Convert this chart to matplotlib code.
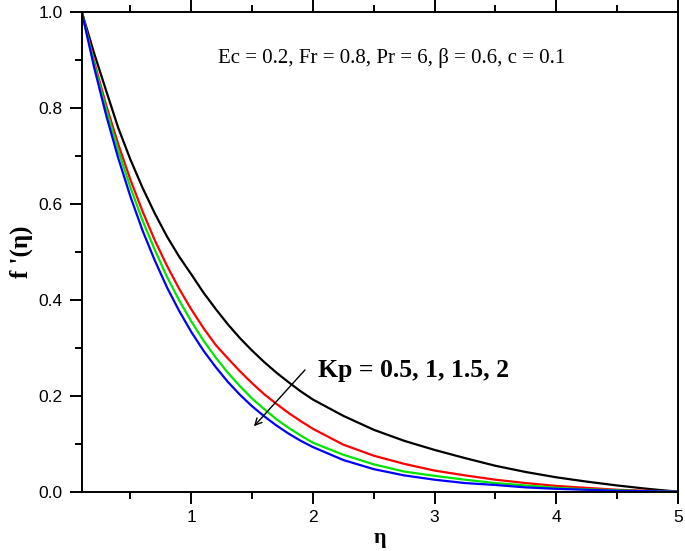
import numpy as np
import matplotlib.pyplot as plt
from matplotlib.ticker import MultipleLocator

# eta grid and f'(eta) for Kp = 0.5, 1, 1.5, 2
eta = [0.1, 0.2, 0.3, 0.4, 0.5, 0.6, 0.7, 0.8, 0.9, 1.0,
       1.1, 1.2, 1.3, 1.4, 1.5, 1.6, 1.7, 1.8, 1.9, 2.0,
       2.25, 2.5, 2.75, 3.0, 3.25, 3.5, 3.75, 4.0, 4.25, 4.5, 4.75, 5.0]
kp_05 = [1.0, 0.915, 0.836, 0.758, 0.692, 0.633, 0.580, 0.532, 0.490, 0.453,
         0.415, 0.381, 0.349, 0.320, 0.294, 0.270, 0.248, 0.228, 0.209, 0.192,
         0.158, 0.129, 0.106, 0.087, 0.070, 0.054, 0.041, 0.030, 0.021, 0.013, 0.006, 0.0]
kp_1 = [1.0, 0.898, 0.806, 0.724, 0.650, 0.584, 0.524, 0.471, 0.423, 0.380,
        0.341, 0.306, 0.278, 0.251, 0.226, 0.203, 0.183, 0.164, 0.147, 0.131,
        0.098, 0.075, 0.058, 0.044, 0.034, 0.025, 0.018, 0.012, 0.008, 0.004, 0.002, 0.0]
kp_15 = [1.0, 0.893, 0.797, 0.711, 0.634, 0.565, 0.504, 0.448, 0.399, 0.355,
         0.315, 0.280, 0.248, 0.220, 0.194, 0.172, 0.151, 0.133, 0.117, 0.102,
         0.077, 0.057, 0.042, 0.033, 0.025, 0.018, 0.013, 0.008, 0.005, 0.003, 0.001, 0.0]
kp_2 = [1.0, 0.886, 0.785, 0.695, 0.615, 0.544, 0.482, 0.426, 0.377, 0.333,
        0.294, 0.260, 0.229, 0.202, 0.178, 0.157, 0.138, 0.121, 0.106, 0.093,
        0.066, 0.047, 0.034, 0.025, 0.018, 0.014, 0.009, 0.006, 0.004, 0.002, 0.001, 0.0]

series = [(kp_05, 'black'), (kp_1, '#ff0000'), (kp_15, '#00e600'), (kp_2, '#0000ff')]

fig = plt.figure(figsize=(6.85, 5.51), dpi=100)
ax = fig.add_axes([0.1193, 0.1076, 0.8705, 0.8712])

for vals, col in series:
    ax.plot(eta, vals, color=col, lw=1.6)

ax.set_xlim(0.1, 5)
ax.set_ylim(0, 1.0)
ax.xaxis.set_major_locator(MultipleLocator(1))
ax.xaxis.set_minor_locator(MultipleLocator(0.5))
ax.yaxis.set_major_locator(MultipleLocator(0.2))
ax.yaxis.set_minor_locator(MultipleLocator(0.1))
ax.yaxis.set_major_formatter(plt.FormatStrFormatter('%.1f'))

for s in ax.spines.values():
    s.set_linewidth(1.4)
ax.tick_params(which='both', direction='out', top=True, right=False,
               width=1.4, labelsize=12.5, labelfontfamily='Liberation Sans')
ax.tick_params(which='major', length=8.5, pad=5)
ax.tick_params(which='minor', length=5)

ax.set_xlabel('η', fontsize=16, fontweight='bold', family='Liberation Serif', labelpad=2)
ax.set_ylabel("f '(η)", fontsize=18, fontweight='bold', family='Liberation Serif', labelpad=4)

ax.text(0.519, 0.9035, 'Ec = 0.2, Fr = 0.8, Pr = 6, β = 0.6, c = 0.1',
        transform=ax.transAxes, ha='center', va='center',
        fontsize=15, family='Liberation Serif')
ax.text(2.04, 0.253, 'Kp = 0.5, 1, 1.5, 2', ha='left', va='center',
        fontsize=18.5, fontweight='bold', family='Liberation Serif')
ax.annotate('', xy=(1.5, 0.132), xytext=(1.95, 0.258),
            arrowprops=dict(arrowstyle='->', color='black', lw=1.0, mutation_scale=12))

fig.savefig('out.png', dpi=100)
